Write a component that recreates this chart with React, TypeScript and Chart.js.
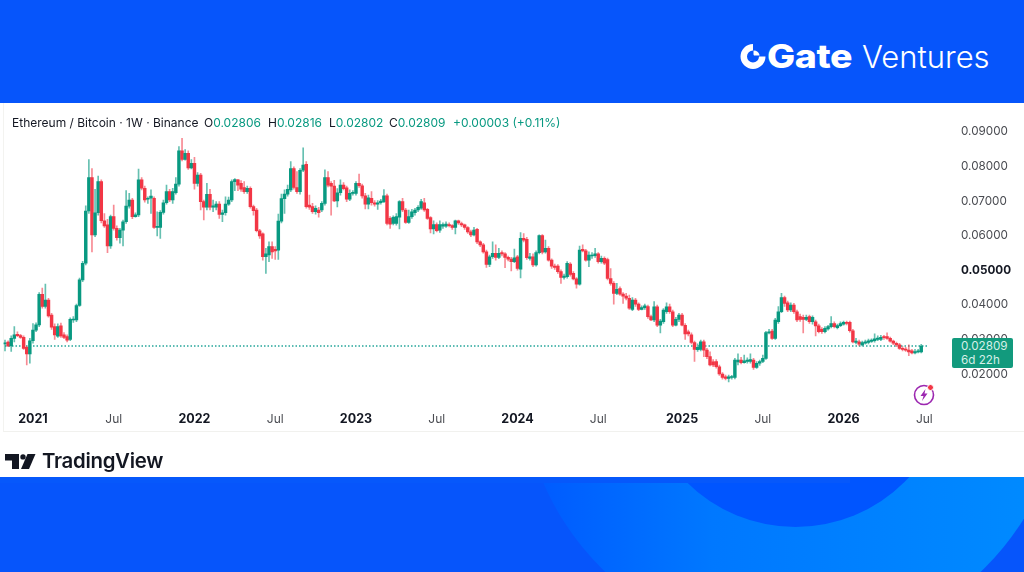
import React, { useEffect, useRef } from "react";
import { Chart, registerables } from "chart.js";

Chart.register(...registerables);

const firstWeek = "2020-11-02";
const futureWeeks = 2;

const opens = [
0.0287,0.0292,0.0281,0.0303,0.0315,0.0311,0.0306,0.0277,0.0258,0.0296,
0.0327,0.0342,0.0430,0.0395,0.0414,0.0370,0.0337,0.0309,0.0339,0.0313,
0.0308,0.0300,0.0356,0.0356,0.0398,0.0472,0.0520,0.0671,0.0768,0.0602,
0.0666,0.0756,0.0643,0.0631,0.0570,0.0655,0.0621,0.0594,0.0616,0.0640,
0.0685,0.0703,0.0655,0.0660,0.0761,0.0737,0.0705,0.0708,0.0708,0.0624,
0.0624,0.0667,0.0695,0.0727,0.0703,0.0724,0.0749,0.0845,0.0820,0.0838,
0.0796,0.0809,0.0751,0.0775,0.0698,0.0682,0.0719,0.0682,0.0682,0.0691,
0.0661,0.0666,0.0691,0.0703,0.0756,0.0761,0.0751,0.0739,0.0727,0.0737,
0.0684,0.0674,0.0614,0.0605,0.0539,0.0544,0.0568,0.0560,0.0558,0.0642,
0.0707,0.0720,0.0732,0.0794,0.0739,0.0727,0.0789,0.0806,0.0688,0.0684,
0.0669,0.0674,0.0674,0.0693,0.0768,0.0751,0.0743,0.0700,0.0724,0.0746,
0.0738,0.0705,0.0722,0.0722,0.0751,0.0744,0.0715,0.0691,0.0708,0.0695,
0.0691,0.0695,0.0698,0.0715,0.0650,0.0635,0.0635,0.0653,0.0698,0.0674,
0.0638,0.0655,0.0666,0.0674,0.0679,0.0695,0.0676,0.0652,0.0619,0.0632,
0.0616,0.0627,0.0627,0.0632,0.0629,0.0624,0.0643,0.0635,0.0631,0.0623,
0.0611,0.0602,0.0618,0.0582,0.0573,0.0553,0.0517,0.0539,0.0549,0.0537,
0.0551,0.0547,0.0537,0.0532,0.0525,0.0539,0.0503,0.0592,0.0589,0.0534,
0.0539,0.0515,0.0551,0.0600,0.0553,0.0563,0.0529,0.0512,0.0512,0.0496,
0.0479,0.0481,0.0518,0.0491,0.0475,0.0460,0.0560,0.0556,0.0529,0.0541,
0.0542,0.0547,0.0525,0.0534,0.0531,0.0476,0.0462,0.0433,0.0447,0.0431,
0.0425,0.0419,0.0387,0.0414,0.0402,0.0387,0.0392,0.0395,0.0366,0.0356,
0.0394,0.0341,0.0351,0.0380,0.0394,0.0380,0.0341,0.0358,0.0370,0.0341,
0.0322,0.0313,0.0291,0.0270,0.0271,0.0293,0.0269,0.0250,0.0235,0.0236,
0.0221,0.0200,0.0192,0.0187,0.0190,0.0190,0.0235,0.0240,0.0233,0.0236,
0.0236,0.0240,0.0219,0.0231,0.0236,0.0245,0.0319,0.0324,0.0303,0.0351,
0.0380,0.0421,0.0406,0.0385,0.0399,0.0380,0.0366,0.0364,0.0358,0.0366,
0.0351,0.0351,0.0339,0.0329,0.0322,0.0330,0.0337,0.0346,0.0334,0.0340,
0.0344,0.0349,0.0349,0.0325,0.0291,0.0293,0.0284,0.0289,0.0291,0.0294,
0.0296,0.0300,0.0300,0.0308,0.0308,0.0303,0.0295,0.0289,0.0284,0.0274,
0.0271,0.0269,0.0267,0.0261,0.0264,0.0264,
];

const closes = [
0.0290,0.0281,0.0303,0.0313,0.0311,0.0306,0.0274,0.0258,0.0296,0.0327,
0.0342,0.0430,0.0395,0.0414,0.0368,0.0335,0.0313,0.0337,0.0310,0.0306,
0.0298,0.0358,0.0358,0.0398,0.0472,0.0520,0.0671,0.0768,0.0602,0.0666,
0.0756,0.0643,0.0628,0.0570,0.0655,0.0621,0.0594,0.0616,0.0640,0.0685,
0.0703,0.0655,0.0660,0.0761,0.0737,0.0703,0.0708,0.0714,0.0624,0.0626,
0.0667,0.0695,0.0727,0.0703,0.0727,0.0749,0.0845,0.0820,0.0838,0.0796,
0.0809,0.0751,0.0775,0.0698,0.0682,0.0719,0.0682,0.0686,0.0691,0.0661,
0.0666,0.0691,0.0703,0.0756,0.0762,0.0746,0.0734,0.0727,0.0737,0.0684,
0.0672,0.0614,0.0599,0.0539,0.0547,0.0568,0.0553,0.0556,0.0642,0.0707,
0.0720,0.0734,0.0794,0.0739,0.0727,0.0789,0.0804,0.0684,0.0682,0.0669,
0.0679,0.0666,0.0693,0.0768,0.0746,0.0743,0.0700,0.0724,0.0746,0.0736,
0.0705,0.0722,0.0724,0.0751,0.0744,0.0715,0.0691,0.0709,0.0695,0.0691,
0.0695,0.0700,0.0715,0.0635,0.0633,0.0653,0.0655,0.0698,0.0674,0.0638,
0.0655,0.0669,0.0674,0.0682,0.0698,0.0674,0.0650,0.0619,0.0632,0.0614,
0.0632,0.0632,0.0633,0.0629,0.0624,0.0643,0.0637,0.0631,0.0624,0.0611,
0.0602,0.0616,0.0582,0.0573,0.0553,0.0517,0.0539,0.0549,0.0537,0.0549,
0.0547,0.0537,0.0532,0.0525,0.0536,0.0505,0.0592,0.0587,0.0536,0.0539,
0.0515,0.0551,0.0600,0.0552,0.0563,0.0529,0.0512,0.0508,0.0496,0.0479,
0.0483,0.0520,0.0488,0.0475,0.0460,0.0558,0.0556,0.0529,0.0544,0.0544,
0.0547,0.0525,0.0534,0.0520,0.0476,0.0462,0.0433,0.0445,0.0431,0.0425,
0.0419,0.0390,0.0414,0.0402,0.0387,0.0392,0.0397,0.0366,0.0356,0.0394,
0.0341,0.0353,0.0385,0.0394,0.0380,0.0341,0.0358,0.0370,0.0341,0.0316,
0.0316,0.0291,0.0271,0.0277,0.0293,0.0269,0.0250,0.0226,0.0226,0.0221,
0.0200,0.0190,0.0187,0.0192,0.0192,0.0240,0.0240,0.0233,0.0238,0.0240,
0.0242,0.0219,0.0231,0.0236,0.0245,0.0320,0.0322,0.0303,0.0356,0.0380,
0.0421,0.0404,0.0385,0.0399,0.0380,0.0356,0.0358,0.0358,0.0364,0.0351,
0.0364,0.0339,0.0322,0.0322,0.0332,0.0337,0.0346,0.0337,0.0340,0.0346,
0.0349,0.0346,0.0325,0.0293,0.0295,0.0286,0.0291,0.0293,0.0296,0.0298,
0.0302,0.0304,0.0306,0.0305,0.0303,0.0295,0.0289,0.0284,0.0274,0.0271,
0.0269,0.0264,0.0261,0.0265,0.0267,0.0281,
];

const highs = [
0.0298,0.0296,0.0310,0.0337,0.0322,0.0315,0.0310,0.0281,0.0303,0.0346,
0.0348,0.0435,0.0448,0.0460,0.0419,0.0375,0.0345,0.0345,0.0347,0.0320,
0.0313,0.0362,0.0366,0.0402,0.0477,0.0526,0.0686,0.0820,0.0794,0.0734,
0.0772,0.0761,0.0664,0.0647,0.0659,0.0688,0.0628,0.0621,0.0645,0.0730,
0.0722,0.0708,0.0666,0.0792,0.0768,0.0743,0.0712,0.0732,0.0712,0.0669,
0.0672,0.0703,0.0746,0.0734,0.0737,0.0768,0.0857,0.0881,0.0849,0.0845,
0.0820,0.0826,0.0782,0.0780,0.0703,0.0751,0.0734,0.0703,0.0698,0.0698,
0.0674,0.0712,0.0711,0.0761,0.0765,0.0763,0.0759,0.0756,0.0743,0.0741,
0.0688,0.0679,0.0618,0.0608,0.0563,0.0582,0.0582,0.0568,0.0662,0.0720,
0.0732,0.0746,0.0814,0.0799,0.0785,0.0794,0.0854,0.0814,0.0717,0.0693,
0.0686,0.0682,0.0698,0.0790,0.0785,0.0756,0.0760,0.0736,0.0761,0.0753,
0.0743,0.0732,0.0730,0.0756,0.0778,0.0749,0.0722,0.0717,0.0727,0.0701,
0.0701,0.0705,0.0733,0.0720,0.0655,0.0657,0.0664,0.0701,0.0708,0.0679,
0.0674,0.0676,0.0679,0.0687,0.0705,0.0708,0.0679,0.0655,0.0643,0.0637,
0.0643,0.0637,0.0640,0.0637,0.0632,0.0645,0.0645,0.0639,0.0633,0.0626,
0.0616,0.0624,0.0621,0.0585,0.0578,0.0558,0.0544,0.0582,0.0573,0.0563,
0.0556,0.0551,0.0541,0.0537,0.0561,0.0543,0.0609,0.0606,0.0595,0.0549,
0.0547,0.0556,0.0602,0.0603,0.0587,0.0568,0.0533,0.0518,0.0516,0.0501,
0.0489,0.0525,0.0522,0.0496,0.0479,0.0570,0.0573,0.0560,0.0553,0.0551,
0.0563,0.0551,0.0541,0.0539,0.0535,0.0505,0.0467,0.0462,0.0452,0.0435,
0.0433,0.0428,0.0421,0.0419,0.0406,0.0397,0.0402,0.0399,0.0370,0.0409,
0.0399,0.0358,0.0389,0.0406,0.0402,0.0385,0.0364,0.0375,0.0375,0.0346,
0.0327,0.0319,0.0295,0.0287,0.0298,0.0298,0.0274,0.0264,0.0242,0.0242,
0.0226,0.0204,0.0197,0.0197,0.0196,0.0245,0.0258,0.0248,0.0255,0.0247,
0.0258,0.0245,0.0236,0.0240,0.0255,0.0323,0.0329,0.0329,0.0361,0.0395,
0.0433,0.0425,0.0411,0.0406,0.0404,0.0385,0.0373,0.0370,0.0370,0.0370,
0.0368,0.0356,0.0344,0.0334,0.0337,0.0341,0.0366,0.0351,0.0344,0.0351,
0.0353,0.0353,0.0353,0.0329,0.0303,0.0298,0.0295,0.0298,0.0301,0.0302,
0.0316,0.0310,0.0312,0.0312,0.0319,0.0307,0.0298,0.0292,0.0289,0.0279,
0.0277,0.0284,0.0271,0.0271,0.0271,0.0286,
];

const lows = [
0.0267,0.0279,0.0265,0.0293,0.0308,0.0303,0.0271,0.0226,0.0231,0.0289,
0.0322,0.0337,0.0390,0.0390,0.0364,0.0329,0.0300,0.0306,0.0306,0.0302,
0.0293,0.0296,0.0349,0.0351,0.0395,0.0467,0.0515,0.0664,0.0553,0.0597,
0.0659,0.0637,0.0624,0.0551,0.0563,0.0616,0.0587,0.0578,0.0570,0.0635,
0.0679,0.0649,0.0653,0.0655,0.0732,0.0697,0.0693,0.0664,0.0621,0.0599,
0.0592,0.0662,0.0691,0.0698,0.0693,0.0720,0.0743,0.0816,0.0818,0.0791,
0.0793,0.0734,0.0743,0.0674,0.0645,0.0674,0.0674,0.0669,0.0674,0.0650,
0.0640,0.0659,0.0687,0.0698,0.0730,0.0730,0.0728,0.0722,0.0722,0.0679,
0.0659,0.0611,0.0592,0.0529,0.0491,0.0525,0.0534,0.0531,0.0531,0.0637,
0.0664,0.0714,0.0727,0.0734,0.0722,0.0720,0.0785,0.0679,0.0676,0.0664,
0.0662,0.0653,0.0669,0.0688,0.0741,0.0659,0.0698,0.0683,0.0717,0.0732,
0.0698,0.0701,0.0717,0.0717,0.0739,0.0708,0.0677,0.0677,0.0688,0.0685,
0.0676,0.0691,0.0695,0.0631,0.0621,0.0631,0.0630,0.0619,0.0669,0.0635,
0.0635,0.0650,0.0659,0.0669,0.0676,0.0670,0.0647,0.0608,0.0605,0.0611,
0.0609,0.0621,0.0624,0.0625,0.0618,0.0605,0.0632,0.0626,0.0618,0.0606,
0.0597,0.0599,0.0577,0.0568,0.0549,0.0508,0.0510,0.0534,0.0529,0.0533,
0.0541,0.0507,0.0527,0.0498,0.0522,0.0500,0.0478,0.0582,0.0531,0.0529,
0.0510,0.0512,0.0547,0.0547,0.0549,0.0526,0.0505,0.0502,0.0491,0.0462,
0.0474,0.0477,0.0483,0.0472,0.0448,0.0457,0.0553,0.0526,0.0510,0.0534,
0.0537,0.0520,0.0520,0.0516,0.0472,0.0457,0.0402,0.0429,0.0427,0.0404,
0.0414,0.0387,0.0383,0.0395,0.0383,0.0385,0.0387,0.0361,0.0354,0.0351,
0.0337,0.0319,0.0346,0.0375,0.0375,0.0337,0.0339,0.0351,0.0339,0.0300,
0.0310,0.0287,0.0236,0.0265,0.0267,0.0250,0.0244,0.0223,0.0221,0.0217,
0.0196,0.0185,0.0183,0.0177,0.0185,0.0186,0.0226,0.0229,0.0231,0.0231,
0.0231,0.0213,0.0216,0.0225,0.0233,0.0242,0.0316,0.0300,0.0300,0.0346,
0.0377,0.0395,0.0380,0.0380,0.0375,0.0351,0.0352,0.0319,0.0354,0.0346,
0.0344,0.0310,0.0319,0.0317,0.0319,0.0327,0.0333,0.0333,0.0330,0.0337,
0.0341,0.0342,0.0321,0.0290,0.0287,0.0281,0.0281,0.0286,0.0287,0.0291,
0.0292,0.0296,0.0296,0.0300,0.0300,0.0292,0.0285,0.0279,0.0271,0.0267,
0.0265,0.0253,0.0258,0.0258,0.0261,0.0261,
];

const lastPrice = 0.02809;
const xTickIndex = [9, 35, 61, 87, 113, 139, 165, 191, 218, 244, 270, 296];
const xTickText = ["2021", "Jul", "2022", "Jul", "2023", "Jul", "2024", "Jul", "2025", "Jul", "2026", "Jul"];
const yTicks = [0.02, 0.03, 0.04, 0.05, 0.06, 0.07, 0.08, 0.09];
const boldPrice = 0.05;

const legendName = "Ethereum / Bitcoin · 1W · Binance";
const legendValues = [
  ["O", "0.02806", 204],
  ["H", "0.02816", 268],
  ["L", "0.02802", 329],
  ["C", "0.02809", 389],
] as const;
const legendChange = "+0.00003 (+0.11%)";

const UP = "#089981";
const DOWN = "#f23645";
const UP_WICK = "rgba(8,153,129,0.62)";
const DOWN_WICK = "rgba(242,54,69,0.58)";
const FONT = "Inter, 'Noto Sans', sans-serif";

export default function App() {
  const ref = useRef<HTMLCanvasElement>(null);
  useEffect(() => {
    document.body.style.margin = "0";
    const n = closes.length;
    const start = new Date(firstWeek + "T00:00:00Z").getTime();
    const weeks = Array.from({ length: n + futureWeeks }, (_, i) =>
      new Date(start + i * 7 * 86400000).toISOString().slice(0, 10)
    );
    const isUp = closes.map((c, i) => c >= opens[i]);
    const chart = new Chart(ref.current!, {
      type: "bar",
      data: {
        labels: weeks,
        datasets: [
          {
            type: "line",
            label: "Last price",
            data: weeks.map(() => lastPrice),
            borderColor: "#26a69a",
            borderWidth: 1.3,
            borderDash: [1.5, 2],
            pointRadius: 0,
            order: 3,
          },
          {
            label: "High-low",
            data: highs.map((h, i) => [lows[i], h]),
            backgroundColor: isUp.map((u) => (u ? UP_WICK : DOWN_WICK)),
            barThickness: 1,
            grouped: false,
            order: 2,
          },
          {
            label: "Open-close",
            data: closes.map((c, i) => [opens[i], c]),
            backgroundColor: isUp.map((u) => (u ? UP : DOWN)),
            barThickness: 2.8,
            minBarLength: 1,
            grouped: false,
            order: 1,
          },
        ],
      } as any,
      options: {
        responsive: false,
        animation: false,
        events: [],
        layout: { padding: { left: 3.45, right: 0, top: 115, bottom: 140 } },
        plugins: { legend: { display: false }, tooltip: { enabled: false }, title: { display: false } },
        scales: {
          x: {
            type: "category",
            offset: true,
            grid: { display: false, drawTicks: false },
            border: { display: false },
            afterBuildTicks: (s: any) => {
              s.ticks = xTickIndex.map((v) => ({ value: v }));
            },
            afterFit: (s: any) => {
              s.height = 27;
            },
            ticks: {
              autoSkip: false,
              maxRotation: 0,
              padding: 7,
              color: (c: any) => (xTickText[xTickIndex.indexOf(c.tick?.value)] === "Jul" ? "#4a4c52" : "#131722"),
              font: (c: any) =>
                xTickText[xTickIndex.indexOf(c.tick?.value)] === "Jul"
                  ? { family: FONT, size: 12, weight: "400" }
                  : { family: FONT, size: 12.5, weight: "700" },
              callback: (v: any) => xTickText[xTickIndex.indexOf(Number(v))],
            },
          },
          y: {
            type: "linear",
            position: "right",
            min: 0.01104,
            max: 0.09486,
            grid: { display: false, drawTicks: false },
            border: { display: false },
            afterBuildTicks: (s: any) => {
              s.ticks = yTicks.map((v) => ({ value: v }));
            },
            afterFit: (s: any) => {
              s.width = 95;
            },
            ticks: {
              padding: 32,
              color: (c: any) => (c.tick?.value === boldPrice ? "#131722" : "#4a4c52"),
              font: (c: any) => ({
                family: FONT,
                size: 11.7,
                weight: c.tick?.value === boldPrice ? "700" : "400",
              }),
              callback: (v: any) => Number(v).toFixed(5),
            },
          },
        },
      },
    } as any);
    return () => chart.destroy();
  }, []);

  return (
    <div style={{ position: "absolute", left: 0, top: 0, width: 1024, height: 572, overflow: "hidden", background: "#fff", fontFamily: FONT }}>
      {/* header */}
      <div style={{ position: "absolute", left: 0, top: 0, width: 1024, height: 103, background: "#0655fb" }} />
      <svg style={{ position: "absolute", left: 740, top: 43 }} width="27" height="27" viewBox="0 0 27 27">
        <path d="M13 1 A12.5 12.5 0 1 0 25.5 13.5 H19 A6 6 0 1 1 13 7.5 Z" fill="#fff" />
        <path d="M15 7 H26 A11 11 0 0 0 15 1 Z" fill="#fff" opacity="0" />
        <path d="M14.5 1.2 A12 12 0 0 1 25.2 11 H14.5 Z M14.5 1.2" fill="#0655fb" opacity="0" />
        <path d="M13.5 11.5 V7.5 A6 6 0 0 1 19.5 12 V12.5 H14 Z" fill="#fff" />
      </svg>
      <div style={{ position: "absolute", left: 767, top: 37, color: "#fff", fontSize: 32, fontWeight: 800, lineHeight: "40px", letterSpacing: -0.3, transform: "scaleX(1.17)", transformOrigin: "left center" }}>Gate</div>
      <div style={{ position: "absolute", left: 862, top: 37, color: "#fff", fontSize: 31, fontWeight: 300, lineHeight: "40px" }}>Ventures</div>

      {/* chart panel */}
      <div style={{ position: "absolute", left: 3, top: 103, width: 1021, height: 329, borderLeft: "1px solid #f3f3f0", borderBottom: "1px solid #f1f1ee", boxSizing: "border-box" }} />
      <canvas ref={ref} width={1024} height={572} style={{ position: "absolute", left: 0, top: 0, display: "block" }} />

      {/* legend */}
      <div style={{ position: "absolute", left: 12, top: 115, fontSize: 12, lineHeight: "16px", color: "#131722", whiteSpace: "nowrap" }}>{legendName}</div>
      {legendValues.map(([k, v, x]) => (
        <div key={k} style={{ position: "absolute", left: x, top: 115, fontSize: 12, lineHeight: "16px", color: "#131722", whiteSpace: "nowrap" }}>
          {k}
          <span style={{ color: UP }}>{v}</span>
        </div>
      ))}
      <div style={{ position: "absolute", left: 453, top: 115, fontSize: 12, lineHeight: "16px", color: UP, whiteSpace: "nowrap" }}>{legendChange}</div>

      {/* price tag */}
      <div style={{ position: "absolute", left: 952, top: 338, width: 61, height: 30, background: "#129a7d", borderRadius: 2, color: "#d5efe8", fontSize: 11.7, lineHeight: "13.5px", paddingLeft: 9, paddingTop: 2, boxSizing: "border-box" }}>
        <div>{lastPrice.toFixed(5)}</div>
        <div>6d 22h</div>
      </div>

      {/* lightning badge */}
      <svg style={{ position: "absolute", left: 911, top: 382 }} width="26" height="26" viewBox="0 0 26 26">
        <circle cx="13" cy="13" r="9.5" fill="none" stroke="#9c27b0" strokeWidth="1.6" />
        <path d="M14.5 7 L9.5 14 L12.5 14 L11 19 L16.5 11.5 L13.5 11.5 Z" fill="#9c27b0" />
        <circle cx="19.5" cy="5.5" r="3" fill="#f23645" stroke="#fff" strokeWidth="1" />
      </svg>

      {/* TradingView logo */}
      <svg style={{ position: "absolute", left: 5, top: 454 }} width="31" height="15" viewBox="0 0 31 15">
        <path d="M0 0 H14 V15 H7 V6.5 H0 Z" fill="#131722" />
        <circle cx="18" cy="2.9" r="2.7" fill="#131722" />
        <path d="M22.5 0 H30.5 L24 15 H16 Z" fill="#131722" />
      </svg>
      <div style={{ position: "absolute", left: 42, top: 448, fontSize: 20.4, fontWeight: 600, lineHeight: "26px", color: "#131722", letterSpacing: -0.3 }}>TradingView</div>

      {/* footer */}
      <div style={{ position: "absolute", left: 0, top: 477, width: 1024, height: 95, overflow: "hidden", background: "#0655fb" }}>
        <div style={{ position: "absolute", left: 793 - 272, top: 375 - 477 - 272, width: 544, height: 544, borderRadius: "50%", background: "linear-gradient(90deg,#0058ff 0%,#0078ff 35%,#008cff 100%)" }} />
        <div style={{ position: "absolute", left: 795 - 154.5, top: 372.5 - 477 - 154.5, width: 309, height: 309, borderRadius: "50%", background: "#0055ff" }} />
        <div style={{ position: "absolute", left: 0, top: 0, width: 850, height: 6, background: "#0658fb" }} />
      </div>
    </div>
  );
}
